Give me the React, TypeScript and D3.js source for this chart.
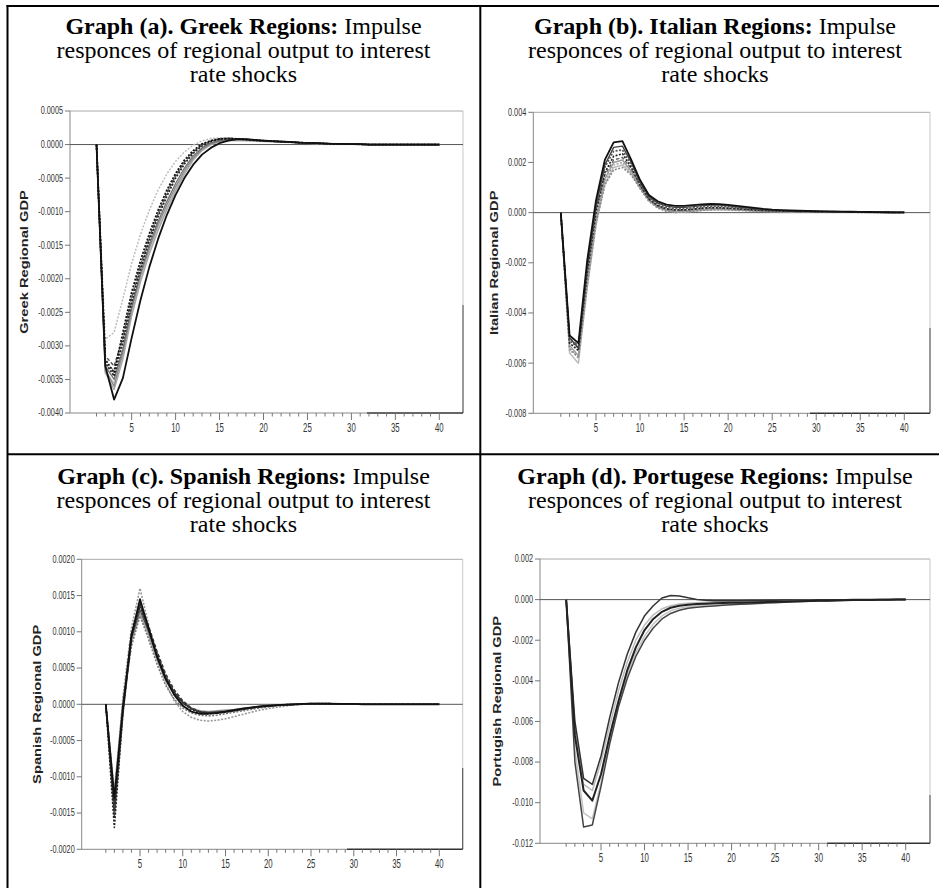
import React, { useEffect, useRef } from 'react';
import * as d3 from 'd3';

// impulse responses, periods 1..40, values in units of 1e-4
const PERIODS = d3.range(1, 41);

// Graph (a) Greek regions
const greekA = [0,-29,-28,-23,-17.7,-13.4,-9.8,-6.8,-4.4,-2.5, -1.1,-0.1,0.55,0.9,1.0,1.0,0.9,0.8,0.7,0.6, 0.5,0.45,0.4,0.3,0.25,0.2,0.15,0.1,0.1,0.05, 0.05,0,0,0,0,0,0,0,0,0];
const greekB = [0,-34,-35.5,-31.5,-25.2,-20.2,-16.0,-12.5,-9.5,-6.7, -4.2,-2.2,-0.8,0.05,0.45,0.6,0.6,0.55,0.5,0.45, 0.4,0.35,0.3,0.25,0.2,0.15,0.1,0.1,0.05,0.05, 0,0,0,0,0,0,0,0,0,0];
const greekC = [0,-34,-36.5,-32,-25.5,-20.5,-16.3,-12.8,-9.7,-6.9, -4.4,-2.3,-0.9,0,0.4,0.6,0.65,0.6,0.55,0.5, 0.45,0.4,0.35,0.3,0.25,0.2,0.15,0.1,0.1,0.05, 0.05,0,0,0,0,0,0,0,0,0];
const greekD = [0,-33.5,-36,-31,-24.6,-19.6,-15.5,-12.0,-9.0,-6.3, -3.9,-2.0,-0.7,0.1,0.5,0.7,0.7,0.65,0.6,0.5, 0.45,0.4,0.35,0.3,0.25,0.2,0.15,0.1,0.1,0.05, 0.05,0,0,0,0,0,0,0,0,0];
const greekE = [0,-33,-35,-30.5,-24.2,-19.2,-15.0,-11.5,-8.5,-5.8, -3.5,-1.7,-0.5,0.25,0.6,0.75,0.75,0.7,0.6,0.55, 0.5,0.4,0.35,0.3,0.25,0.2,0.15,0.1,0.1,0.05, 0.05,0,0,0,0,0,0,0,0,0];
const greekF = [0,-33,-33.5,-29,-23,-18.1,-14.0,-10.4,-7.3,-4.7, -2.6,-1.1,-0.05,0.55,0.85,0.9,0.85,0.75,0.65,0.55, 0.5,0.45,0.35,0.3,0.25,0.2,0.15,0.1,0.1,0.05, 0,0,0,0,0,0,0,0,0,0];
const greekG = [0,-31.5,-33,-28.8,-22.8,-18.0,-13.9,-10.3,-7.2,-4.6, -2.6,-1.1,-0.1,0.5,0.8,0.9,0.85,0.75,0.65,0.55, 0.5,0.4,0.35,0.3,0.25,0.2,0.15,0.1,0.1,0.05, 0,0,0,0,0,0,0,0,0,0];
const greekH = [0,-32.5,-34.5,-29.5,-23.5,-18.6,-14.4,-10.8,-7.7,-5.0, -2.9,-1.3,-0.2,0.45,0.8,0.9,0.85,0.75,0.65,0.6, 0.5,0.45,0.4,0.3,0.25,0.2,0.15,0.1,0.1,0.05, 0.05,0,0,0,0,0,0,0,0,0];
const greekI = [0,-32,-34,-28,-22,-17.3,-13.3,-9.8,-6.8,-4.3, -2.3,-0.9,0.1,0.6,0.85,0.9,0.85,0.75,0.65,0.55, 0.5,0.45,0.35,0.3,0.25,0.2,0.15,0.1,0.1,0.05, 0.05,0,0,0,0,0,0,0,0,0];
const greekJ = [0,-33,-38,-34.8,-28.8,-23.2,-18.3,-14.1,-10.5,-7.5, -5.0,-3.0,-1.5,-0.5,0.2,0.6,0.8,0.8,0.7,0.6, 0.5,0.45,0.4,0.3,0.25,0.2,0.15,0.1,0.1,0.05, 0.05,0,0,0,0,0,0,0,0,0];
const greekTicks = [5, 0, -5, -10, -15, -20, -25, -30, -35, -40];
const greekTickLabels = ['0.0005', '0.0000', '-0.0005', '-0.0010', '-0.0015', '-0.0020', '-0.0025', '-0.0030', '-0.0035', '-0.0040'];

// Graph (b) Italian regions
const italyA = [0,-56,-60,-30,-5,11.5,18,19,15.5,10, 5.0,2.2,0.8,0.3,0.3,0.6,0.9,1.1,1.2,1.1, 1.0,0.85,0.7,0.6,0.5,0.45,0.4,0.35,0.3,0.25, 0.25,0.2,0.2,0.15,0.15,0.1,0.1,0.05,0.05,0.05];
const italyB = [0,-55,-57,-28,-3,12.5,19,20,16,10, 5,2.2,0.9,0.4,0.5,0.8,1.1,1.3,1.4,1.3, 1.1,0.95,0.8,0.65,0.55,0.5,0.4,0.35,0.3,0.3, 0.25,0.2,0.2,0.15,0.15,0.1,0.1,0.05,0.05,0.05];
const italyC = [0,-54,-58,-29,-4,11,17,18,15,9.5, 4.5,1.8,0.5,0.1,0.2,0.5,0.9,1.1,1.2,1.1, 0.9,0.8,0.65,0.55,0.45,0.4,0.35,0.3,0.25,0.25, 0.2,0.2,0.15,0.15,0.1,0.1,0.1,0.05,0.05,0.05];
const italyD = [0,-53,-57,-27,-3,13.5,20,21,16.5,10.3, 5.0,2.3,1.0,0.6,0.7,1.0,1.3,1.5,1.5,1.4, 1.2,1.0,0.85,0.7,0.6,0.5,0.45,0.4,0.35,0.3, 0.3,0.25,0.2,0.2,0.15,0.15,0.1,0.1,0.05,0.05];
const italyE = [0,-50,-53,-23,1,15,21,22,17.5,11, 5.5,2.6,1.3,0.9,1.0,1.3,1.6,1.8,1.8,1.6, 1.4,1.2,1.0,0.8,0.7,0.6,0.5,0.45,0.4,0.35, 0.3,0.3,0.25,0.2,0.2,0.15,0.1,0.1,0.05,0.05];
const italyF = [0,-52,-55,-24,0,16,22.5,23.5,18,11, 5.5,2.8,1.5,1.1,1.1,1.4,1.8,2.0,2.0,1.8, 1.6,1.3,1.1,0.9,0.75,0.65,0.55,0.5,0.45,0.4, 0.35,0.3,0.25,0.2,0.2,0.15,0.1,0.1,0.05,0.05];
const italyG = [0,-51,-54,-22,2,18,24.5,25,19,11.5, 6,3.2,2.0,1.6,1.6,1.9,2.3,2.5,2.5,2.3, 2.0,1.7,1.4,1.1,0.9,0.8,0.7,0.6,0.5,0.45, 0.4,0.35,0.3,0.25,0.25,0.2,0.15,0.1,0.1,0.05];
const italyH = [0,-50,-54,-21,3,19,26,26.5,20,12, 6.5,3.8,2.6,2.1,2.1,2.4,2.8,3.0,3.0,2.7, 2.3,1.9,1.6,1.3,1.0,0.9,0.75,0.65,0.55,0.5, 0.45,0.4,0.35,0.3,0.25,0.2,0.2,0.15,0.1,0.1];
const italyI = [0,-49,-52,-19,5,21,28,28.5,21,13, 7,4.5,3.2,2.7,2.7,3.0,3.3,3.5,3.4,3.1, 2.7,2.3,1.9,1.5,1.2,1.0,0.85,0.75,0.65,0.55, 0.5,0.45,0.4,0.35,0.3,0.25,0.2,0.15,0.1,0.1];
const italyTicks = [40, 20, 0, -20, -40, -60, -80];
const italyTickLabels = ['0.004', '0.002', '0.000', '-0.002', '-0.004', '-0.006', '-0.008'];

// Graph (c) Spanish regions
const spainA = [0,-12,0.5,8.5,12.5,9.5,6,3.3,1.4,0.3, -0.5,-0.9,-1.0,-0.9,-0.8,-0.7,-0.55,-0.4,-0.3,-0.2, -0.1,-0.05,0,0.05,0.05,0.05,0.05,0.05,0,0, 0,0,0,0,0,0,0,0,0,0];
const spainB = [0,-14,1,10.5,16,11,6.5,3.0,0.5,-1.0, -1.8,-2.2,-2.3,-2.2,-2.0,-1.7,-1.4,-1.1,-0.8,-0.6, -0.4,-0.25,-0.1,0,0.05,0.1,0.1,0.1,0.05,0.05, 0.05,0,0,0,0,0,0,0,0,0];
const spainC = [0,-12.5,0,8,12.2,9,5.5,2.6,0.7,-0.5, -1.2,-1.5,-1.6,-1.5,-1.3,-1.1,-0.9,-0.7,-0.5,-0.35, -0.2,-0.1,0,0.05,0.1,0.1,0.1,0.05,0.05,0.05, 0,0,0,0,0,0,0,0,0,0];
const spainD = [0,-15.5,-1.5,9,13,10,6.5,3.5,1.5,0.2, -0.6,-1.0,-1.1,-1.0,-0.9,-0.75,-0.6,-0.45,-0.3,-0.2, -0.1,-0.05,0,0.05,0.05,0.1,0.05,0.05,0.05,0, 0,0,0,0,0,0,0,0,0,0];
const spainE = [0,-14.5,-0.5,9.8,14,10.8,7.3,4.2,2.0,0.5, -0.5,-1.0,-1.2,-1.15,-1.0,-0.85,-0.7,-0.5,-0.35,-0.25, -0.15,-0.1,-0.05,0,0.05,0.05,0.05,0.05,0.05,0, 0,0,0,0,0,0,0,0,0,0];
const spainF = [0,-17,-1,9.5,13.5,10.5,7,3.8,1.6,0.2, -0.7,-1.2,-1.3,-1.2,-1.1,-0.9,-0.7,-0.5,-0.35,-0.25, -0.15,-0.05,0,0.05,0.1,0.1,0.1,0.05,0.05,0.05, 0,0,0,0,0,0,0,0,0,0];
const spainG = [0,-13.5,-1,9.2,13.8,10.2,6.8,3.8,1.7,0.3, -0.6,-1.1,-1.2,-1.15,-1.05,-0.9,-0.7,-0.5,-0.35,-0.25, -0.15,-0.1,-0.05,0,0.05,0.05,0.05,0.05,0,0, 0,0,0,0,0,0,0,0,0,0];
const spainH = [0,-13,-0.5,9.5,14.5,10.5,6.5,3.5,1.3,-0.2, -1.0,-1.3,-1.3,-1.2,-1.0,-0.8,-0.6,-0.45,-0.3,-0.2, -0.1,-0.05,0,0.05,0.1,0.1,0.1,0.05,0.05,0.05, 0,0,0,0,0,0,0,0,0,0];
const spainTicks = [20, 15, 10, 5, 0, -5, -10, -15, -20];
const spainTickLabels = ['0.0020', '0.0015', '0.0010', '0.0005', '0.0000', '-0.0005', '-0.0010', '-0.0015', '-0.0020'];

// Graph (d) Portuguese regions
const portA = [0,-63,-91,-94,-80,-62,-45,-31,-20,-12.5, -7.5,-4.5,-3.0,-2.2,-1.8,-1.5,-1.3,-1.2,-1.1,-1.0, -0.9,-0.8,-0.7,-0.6,-0.55,-0.5,-0.45,-0.4,-0.35,-0.3, -0.25,-0.2,-0.15,-0.1,-0.1,-0.05,-0.05,0,0,0];
const portB = [0,-74,-105,-108,-90,-69,-51,-37,-26,-18, -12,-8,-5.5,-4.2,-3.5,-3.0,-2.7,-2.5,-2.3,-2.1, -1.9,-1.7,-1.5,-1.3,-1.1,-0.9,-0.8,-0.7,-0.6,-0.5, -0.4,-0.3,-0.25,-0.2,-0.15,-0.1,-0.1,-0.05,0,0];
const portC = [0,-80,-112,-111,-92,-71,-53,-39,-28,-20, -14,-9.5,-6.8,-5.2,-4.3,-3.8,-3.4,-3.1,-2.8,-2.5, -2.3,-2.1,-1.9,-1.7,-1.5,-1.3,-1.1,-0.9,-0.8,-0.6, -0.5,-0.4,-0.3,-0.25,-0.2,-0.15,-0.1,-0.05,0,0];
const portD = [0,-60,-88,-91,-77,-58,-41,-27,-16,-8, -3,0.8,2.0,1.8,0.9,0.1,-0.3,-0.5,-0.55,-0.55, -0.5,-0.45,-0.4,-0.35,-0.3,-0.25,-0.2,-0.2,-0.15,-0.1, -0.1,-0.05,-0.05,0,0,0,0,0,0,0];
const portE = [0,-67,-94,-99,-86,-67,-50,-35,-23.5,-15, -9.5,-6.0,-4.0,-3.0,-2.5,-2.2,-2.0,-1.8,-1.7,-1.6, -1.5,-1.4,-1.3,-1.2,-1.1,-1.0,-0.9,-0.8,-0.7,-0.6, -0.5,-0.4,-0.3,-0.25,-0.2,-0.15,-0.1,-0.05,0,0];
const portTicks = [20, 0, -20, -40, -60, -80, -100, -120];
const portTickLabels = ['0.002', '0.000', '-0.002', '-0.004', '-0.006', '-0.008', '-0.010', '-0.012'];

const X_TICK_LABELS = [5, 10, 15, 20, 25, 30, 35, 40];

type LineStyle = { stroke: string; width: number; dash?: string };
const DOT = '2,1.5';
const DASH = '3.5,2';

interface Panel {
  title: string;
  yTitle: string;
  series: number[][];
  styles: LineStyle[];
  ticks: number[];
  tickLabels: string[];
  // layout, px
  cx: number; titleY: number;
  left: number; right: number; top: number; bottom: number;
  x1: number; x40: number;
  yTitleX: number;
  darkRightFrom: number; darkBottomFrom: number;
}

const panels: Panel[] = [
  {
    title: 'Graph (a). Greek Regions:', yTitle: 'Greek Regional GDP',
    series: [greekA, greekB, greekC, greekD, greekE, greekF, greekG, greekH, greekI, greekJ],
    styles: [
      { stroke: '#bdbdbd', width: 1.5, dash: DOT }, { stroke: '#c8c8c8', width: 1.5 }, { stroke: '#a8a8a8', width: 1.5 },
      { stroke: '#8a8a8a', width: 1.3 }, { stroke: '#707070', width: 1.3 }, { stroke: '#999', width: 1.5, dash: DOT },
      { stroke: '#555', width: 1.4, dash: DASH }, { stroke: '#222', width: 1.7, dash: DOT }, { stroke: '#111', width: 1.7, dash: DOT },
      { stroke: '#111', width: 1.8 },
    ],
    ticks: greekTicks, tickLabels: greekTickLabels,
    cx: 243.5, titleY: 33.5,
    left: 70, right: 463, top: 111, bottom: 413, x1: 96.5, x40: 439.3, yTitleX: 25,
    darkRightFrom: 305, darkBottomFrom: 367,
  },
  {
    title: 'Graph (b). Italian Regions:', yTitle: 'Italian Regional GDP',
    series: [italyA, italyB, italyC, italyD, italyE, italyF, italyG, italyH, italyI],
    styles: [
      { stroke: '#bbb', width: 1.5 }, { stroke: '#aaa', width: 1.6, dash: DOT }, { stroke: '#888', width: 1.6, dash: DOT },
      { stroke: '#999', width: 1.4 }, { stroke: '#666', width: 1.4, dash: DASH }, { stroke: '#222', width: 1.6, dash: DOT },
      { stroke: '#555', width: 1.6, dash: DOT }, { stroke: '#444', width: 1.4 }, { stroke: '#111', width: 1.8 },
    ],
    ticks: italyTicks, tickLabels: italyTickLabels,
    cx: 715, titleY: 33.5,
    left: 533.3, right: 930, top: 112.3, bottom: 413.3, x1: 560.8, x40: 904.3, yTitleX: 495,
    darkRightFrom: 328, darkBottomFrom: 810,
  },
  {
    title: 'Graph (c). Spanish Regions:', yTitle: 'Spanish Regional GDP',
    series: [spainA, spainB, spainC, spainD, spainE, spainF, spainG, spainH],
    styles: [
      { stroke: '#aaa', width: 1.5 }, { stroke: '#999', width: 1.6, dash: DOT }, { stroke: '#777', width: 1.6, dash: DOT },
      { stroke: '#555', width: 1.4 }, { stroke: '#333', width: 1.4, dash: DASH }, { stroke: '#222', width: 1.6, dash: DOT },
      { stroke: '#333', width: 1.3 }, { stroke: '#111', width: 1.8 },
    ],
    ticks: spainTicks, tickLabels: spainTickLabels,
    cx: 243.5, titleY: 483.5,
    left: 81.7, right: 462.7, top: 559.3, bottom: 849.3, x1: 105.8, x40: 439.3, yTitleX: 38,
    darkRightFrom: 768, darkBottomFrom: 347,
  },
  {
    title: 'Graph (d). Portugese Regions:', yTitle: 'Portugish Regional GDP',
    series: [portA, portB, portC, portD, portE],
    styles: [
      { stroke: '#bbb', width: 1.5 }, { stroke: '#c4c4c4', width: 1.5 }, { stroke: '#444', width: 1.5 },
      { stroke: '#333', width: 1.5 }, { stroke: '#222', width: 2 },
    ],
    ticks: portTicks, tickLabels: portTickLabels,
    cx: 715, titleY: 483.5,
    left: 540, right: 930, top: 559, bottom: 843.3, x1: 566.2, x40: 905.7, yTitleX: 498,
    darkRightFrom: 795, darkBottomFrom: 827,
  },
];

const W = 939;
const H = 888;

const App: React.FC = () => {
  const svgRef = useRef<SVGSVGElement>(null);

  useEffect(() => {
    if (!svgRef.current) return;
    const svg = d3.select(svgRef.current);
    svg.selectAll('*').remove();

    // table borders
    const border = svg.append('g').attr('stroke', '#000').attr('stroke-width', 2);
    border.append('line').attr('x1', 6.5).attr('y1', 6).attr('x2', W).attr('y2', 6);
    border.append('line').attr('x1', 7.5).attr('y1', 5).attr('x2', 7.5).attr('y2', H);
    border.append('line').attr('x1', 480.3).attr('y1', 5).attr('x2', 480.3).attr('y2', H);
    border.append('line').attr('x1', 7).attr('y1', 454.3).attr('x2', W).attr('y2', 454.3);

    panels.forEach(p => {
      const g = svg.append('g');

      // title
      const t = g.append('text')
        .attr('font-family', '"Liberation Serif", "Times New Roman", serif')
        .attr('font-size', 24).attr('text-anchor', 'middle').attr('fill', '#000');
      const l1 = t.append('tspan').attr('x', p.cx).attr('y', p.titleY);
      l1.append('tspan').attr('font-weight', 'bold').text(p.title);
      l1.append('tspan').text(' Impulse');
      t.append('tspan').attr('x', p.cx).attr('y', p.titleY + 24.2).text('responces of regional output to interest');
      t.append('tspan').attr('x', p.cx).attr('y', p.titleY + 48.6).text('rate shocks');

      const x = d3.scaleLinear().domain([1, 40]).range([p.x1, p.x40]);
      const yMax = p.ticks[0];
      const yMin = p.ticks[p.ticks.length - 1];
      const y = d3.scaleLinear().domain([yMin, yMax]).range([p.bottom, p.top]);

      // frame
      g.append('line').attr('x1', p.left).attr('y1', p.top).attr('x2', p.right).attr('y2', p.top)
        .attr('stroke', '#a8a8a8').attr('stroke-width', 1);
      g.append('line').attr('x1', p.right).attr('y1', p.top).attr('x2', p.right).attr('y2', p.darkRightFrom)
        .attr('stroke', '#c8c8c8').attr('stroke-width', 1);
      g.append('line').attr('x1', p.right).attr('y1', p.darkRightFrom).attr('x2', p.right).attr('y2', p.bottom)
        .attr('stroke', '#555').attr('stroke-width', 1.2);
      g.append('line').attr('x1', p.left).attr('y1', p.top).attr('x2', p.left).attr('y2', p.bottom)
        .attr('stroke', '#888').attr('stroke-width', 1);
      g.append('line').attr('x1', p.left).attr('y1', p.bottom).attr('x2', p.darkBottomFrom).attr('y2', p.bottom)
        .attr('stroke', '#888').attr('stroke-width', 1);
      g.append('line').attr('x1', p.darkBottomFrom).attr('y1', p.bottom).attr('x2', p.right).attr('y2', p.bottom)
        .attr('stroke', '#333').attr('stroke-width', 1.4);

      // zero line
      g.append('line').attr('x1', p.left).attr('y1', y(0)).attr('x2', p.right).attr('y2', y(0))
        .attr('stroke', '#555').attr('stroke-width', 1);

      // y ticks and labels
      p.ticks.forEach((v, i) => {
        g.append('line').attr('x1', p.left - 5).attr('y1', y(v)).attr('x2', p.left).attr('y2', y(v))
          .attr('stroke', '#777').attr('stroke-width', 1);
        g.append('text')
          .attr('transform', `translate(${p.left - 7},${y(v)}) scale(0.73,1)`)
          .attr('text-anchor', 'end').attr('dominant-baseline', 'central')
          .attr('font-family', '"Liberation Sans", Arial, sans-serif').attr('font-size', 10)
          .attr('fill', '#333').text(p.tickLabels[i]);
      });

      // x ticks and labels
      PERIODS.forEach(k => {
        const major = k % 5 === 0;
        g.append('line').attr('x1', x(k)).attr('y1', p.bottom).attr('x2', x(k)).attr('y2', p.bottom + (major ? 7 : 3.5))
          .attr('stroke', '#777').attr('stroke-width', 1);
      });
      X_TICK_LABELS.forEach(k => {
        g.append('text')
          .attr('transform', `translate(${x(k)},${p.bottom + 19}) scale(0.65,1)`)
          .attr('text-anchor', 'middle')
          .attr('font-family', '"Liberation Sans", Arial, sans-serif').attr('font-size', 12)
          .attr('fill', '#333').text(String(k));
      });

      // y axis title
      g.append('text')
        .attr('transform', `translate(${p.yTitleX},${(p.top + p.bottom) / 2}) rotate(-90) scale(1.47,1)`)
        .attr('text-anchor', 'middle').attr('dominant-baseline', 'central')
        .attr('font-family', '"Liberation Sans", Arial, sans-serif').attr('font-size', 10)
        .attr('font-weight', 'bold').attr('fill', '#222').text(p.yTitle);

      // response lines
      const line = d3.line<number>().x((_, i) => x(PERIODS[i])).y(v => y(v));
      p.series.forEach((s, i) => {
        const st = p.styles[i];
        g.append('path').attr('d', line(s) || '')
          .attr('fill', 'none').attr('stroke', st.stroke).attr('stroke-width', st.width)
          .attr('stroke-dasharray', st.dash || null).attr('stroke-linejoin', 'round');
      });
    });
  }, []);

  return (
    <div style={{ position: 'absolute', left: 0, top: 0, background: '#fff' }}>
      <svg ref={svgRef} width={W} height={H} style={{ display: 'block' }} />
    </div>
  );
};

export default App;
